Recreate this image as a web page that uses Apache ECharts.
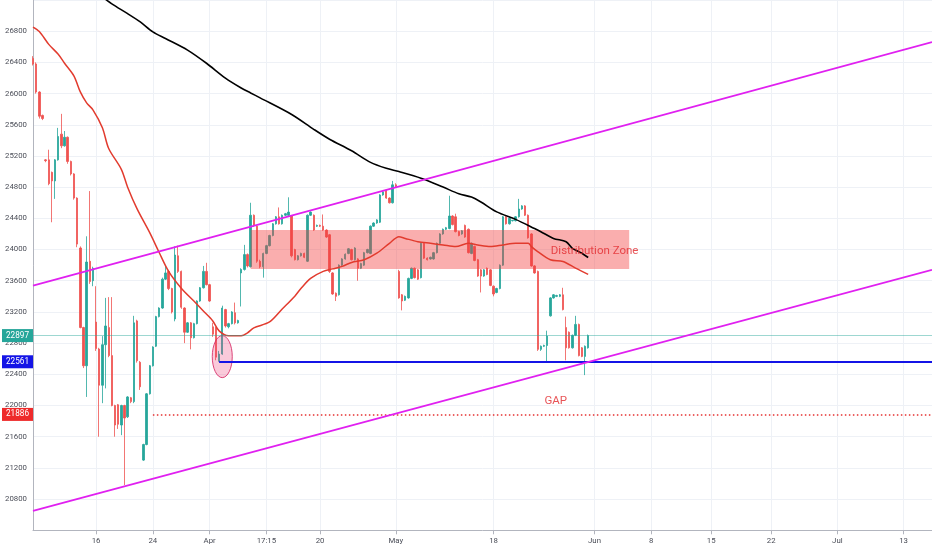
<!DOCTYPE html>
<html>
<head>
<meta charset="utf-8">
<title>HSI - Distribution Zone</title>
<script src="https://cdn.jsdelivr.net/npm/echarts@6/dist/echarts.min.js"></script>
<style>
  html, body { margin: 0; padding: 0; background: #ffffff; }
  #chart { width: 932px; height: 550px; }
</style>
</head>
<body>
<div id="chart"></div>
<script>
// bar slots on the time axis (candles + empty future slots)
var slotCount = 286;
var tickIndex = [20, 38, 56, 74, 91, 115, 146, 178, 196, 215, 234, 255, 276];
var tickText = ['16', '24', 'Apr', '17:15', '20', 'May', '18', 'Jun', '8', '15', '22', 'Jul', '13'];

// candles: [open, close, low, high]
var ohlc = [
  [26450, 26380, 26360, 26480], [26380, 26020, 26000, 26400], [26020, 25710, 25680, 26030], [25720, 25680, 25660, 25730],
  [25150, 25140, 25120, 25160], [25150, 24845, 24825, 25280], [24990, 24880, 24350, 25000], [24880, 25150, 24650, 25160],
  [25150, 25450, 25140, 25560], [25480, 25330, 25300, 25740], [25330, 25440, 25320, 25520], [25440, 25130, 25100, 25450],
  [25130, 24970, 24950, 25140], [24970, 24660, 24640, 24980], [24660, 24070, 24030, 24670], [24020, 23000, 22990, 24040],
  [23000, 22510, 22480, 23010], [22510, 23840, 22110, 24170], [23850, 23590, 23560, 24750], [23600, 23760, 23530, 23780],
  [23070, 22730, 22700, 23530], [22725, 22260, 21600, 22740], [22260, 22780, 22030, 22890], [22780, 23020, 22220, 23380],
  [23000, 22640, 22620, 23390], [22640, 22000, 21990, 23390], [22000, 21750, 21600, 22010], [22010, 21760, 21700, 22020],
  [21750, 22000, 21620, 22010], [22000, 21840, 20980, 22010], [21855, 22110, 21840, 22120], [22100, 22050, 22030, 22110],
  [22050, 23060, 22030, 23150], [23085, 22575, 22550, 23100], [22555, 22240, 22200, 22570], [21300, 21500, 21290, 21510],
  [21500, 22150, 21490, 22160], [22150, 22510, 22140, 22520], [22510, 22750, 22500, 22760], [22760, 23140, 22750, 23150],
  [23140, 23250, 23130, 23260], [23250, 23620, 23240, 23640], [23620, 23700, 23610, 23800], [23720, 23500, 23480, 23740],
  [23500, 23200, 23180, 23510], [23110, 23930, 23080, 24040], [23920, 23720, 23700, 24050], [23720, 23260, 23240, 23730],
  [23250, 22940, 22800, 23260], [22940, 23060, 22930, 23070], [23060, 22870, 22720, 23070], [22870, 23050, 22860, 23060],
  [23050, 23340, 23040, 23350], [23340, 23510, 23330, 23520], [23510, 23720, 23500, 23790], [23720, 23550, 23540, 23830],
  [23550, 23340, 23330, 23560], [23010, 22915, 22880, 23060], [23000, 22620, 22580, 23010], [22570, 22660, 22561, 22700],
  [22660, 23250, 22650, 23280], [23230, 23020, 23000, 23240], [23010, 23050, 22990, 23060], [23050, 23200, 23040, 23210],
  [23190, 23060, 23040, 23320], [23060, 23090, 23050, 23100], [23700, 23745, 23270, 23760], [23745, 23935, 23730, 24060],
  [23935, 23790, 23770, 23950], [23780, 24440, 23770, 24600], [24440, 24310, 24290, 24450], [24300, 23850, 23830, 24310],
  [23850, 23780, 23760, 23870], [23780, 23950, 23640, 23960], [23950, 24050, 23940, 24060], [24050, 24180, 24040, 24190],
  [24180, 24330, 24170, 24340], [24330, 24420, 24320, 24430], [24420, 24330, 24320, 24540], [24330, 24440, 24320, 24450],
  [24440, 24460, 24430, 24470], [24440, 24480, 24430, 24670], [24430, 23920, 23900, 24440], [24000, 23870, 23860, 24010],
  [23870, 23920, 23860, 23930], [23920, 23950, 23910, 23960], [23950, 23900, 23890, 23960], [23850, 24440, 23840, 24450],
  [24440, 24480, 24430, 24490], [24440, 24250, 24240, 24450], [24300, 24310, 24290, 24320], [24310, 24300, 24290, 24320],
  [24300, 24250, 24240, 24450], [24250, 24160, 24150, 24260], [24190, 23720, 23700, 24200], [23700, 23430, 23420, 23710],
  [23440, 23400, 23340, 23450], [23420, 23800, 23410, 23810], [23800, 23880, 23790, 23890], [23880, 23940, 23870, 23950],
  [23950, 24010, 23940, 24020], [24000, 23870, 23860, 24010], [23870, 24020, 23860, 24030], [23880, 23760, 23600, 23890],
  [23760, 23820, 23750, 23830], [23800, 23960, 23790, 23970], [23960, 24000, 23950, 24010], [23950, 24300, 23940, 24310],
  [24300, 24340, 24290, 24350], [24340, 24380, 24330, 24390], [24350, 24700, 24340, 24710], [24700, 24740, 24690, 24750],
  [24760, 24660, 24650, 24770], [24660, 24600, 24590, 24670], [24600, 24830, 24590, 24880], [24830, 24810, 24800, 24850],
  [23720, 23380, 23370, 23740], [23420, 23340, 23220, 23430], [23350, 23400, 23340, 23410], [23380, 23630, 23370, 23640],
  [23630, 23760, 23620, 23770], [23760, 23640, 23630, 23770], [23740, 23620, 23610, 23750], [23640, 24080, 23630, 24090],
  [24080, 23890, 23880, 24090], [23890, 23870, 23860, 23900], [23880, 23900, 23870, 23910], [23880, 23960, 23870, 23970],
  [23960, 24080, 23950, 24090], [24080, 24200, 24070, 24210], [24200, 24260, 24190, 24270], [24260, 24280, 24250, 24290],
  [24270, 24430, 24260, 24690], [24430, 24320, 24310, 24440], [24420, 24230, 24220, 24460], [24230, 24180, 24170, 24240],
  [24200, 24240, 24190, 24250], [24310, 24160, 24150, 24320], [24260, 23960, 23950, 24270], [23950, 24080, 23940, 24090],
  [24040, 23860, 23850, 24050], [23870, 23660, 23650, 23880], [23740, 23660, 23450, 23750], [23660, 23740, 23650, 23750],
  [23760, 23680, 23670, 23770], [23740, 23540, 23530, 23750], [23530, 23430, 23400, 23540], [23450, 23500, 23440, 23510],
  [23500, 23800, 23490, 23810], [23800, 24420, 23790, 24430], [24420, 24330, 24320, 24430], [24330, 24400, 24320, 24410],
  [24370, 24375, 24360, 24380], [24370, 24420, 24360, 24430], [24420, 24520, 24410, 24650], [24520, 24560, 24510, 24570],
  [24560, 24440, 24430, 24570], [24440, 24150, 24140, 24450], [24200, 23790, 23780, 24210], [23790, 23700, 23690, 23800],
  [23720, 22720, 22700, 23730], [22720, 22760, 22700, 22770], [22760, 22770, 22750, 22780], [22770, 22890, 22560, 22960],
  [23150, 23380, 23140, 23390], [23380, 23420, 23370, 23430], [23400, 23410, 23390, 23420], [23400, 23420, 23390, 23430],
  [23420, 23230, 23220, 23510], [23000, 22740, 22580, 23140], [22940, 22740, 22730, 22950], [22740, 22900, 22730, 22910],
  [22900, 23040, 22890, 23150], [23040, 22640, 22630, 23050], [22740, 22630, 22620, 22750], [22630, 22760, 22390, 22770],
  [22740, 22897, 22730, 22910]
];

// moving averages: [slot, value]
var maFast = [
  [0, 26853], [2, 26796], [5, 26631], [8, 26504], [10, 26389], [13, 26224], [15, 26021], [17, 25881],
  [19, 25792], [22, 25563], [24, 25296], [28, 25029], [30, 24800], [33, 24521], [37, 24216], [40, 23962],
  [43, 23720], [47, 23504], [51, 23339], [54, 23212], [57, 23085], [59, 22957], [62, 22894], [66, 22894],
  [68, 22932], [70, 22996], [75, 23072], [79, 23237], [83, 23402], [85, 23504], [88, 23631], [92, 23720],
  [95, 23752], [98, 23784], [101, 23835], [105, 23869], [109, 23953], [113, 24080], [116, 24165], [118, 24143],
  [122, 24101], [126, 24080], [130, 24059], [134, 24038], [138, 24080], [141, 24059], [145, 24038], [149, 24059],
  [153, 24080], [157, 24080], [158, 24038], [160, 23974], [164, 23869], [168, 23847], [172, 23762], [176, 23682]
];
var maSlow = [
  [22, 27240], [25, 27150], [30, 27025], [34, 26919], [38, 26792], [42, 26707], [49, 26558], [55, 26389],
  [61, 26199], [66, 26072], [69, 26008], [72, 25945], [82, 25732], [89, 25542], [94, 25415], [101, 25267],
  [107, 25118], [112, 25042], [116, 25000], [123, 24915], [130, 24801], [135, 24715], [139, 24673], [142, 24610],
  [147, 24483], [153, 24387], [159, 24270], [161, 24229], [165, 24143], [169, 24101], [171, 24016], [174, 23953],
  [176, 23898]
];

// drawn annotations
var channelTop = [[0, 23538], [285, 26660]];
var channelBottom = [[0, 20650], [285, 23739]];
var lastPrice = 22897;
var supportLevel = 22561, supportStart = 59;
var gapLevel = 21886, gapStart = 38;
var zoneBox = [69, 189, 24250, 23750];
var lowMark = [60, 22627];
var noteSlot = [164, 162];
var noteValue = [23974, 22055];
var noteText = ['Distribution Zone', 'GAP'];

(function () {
  var up = '#26a69a', down = '#ef5350', axisCol = '#b2b5be', grid = '#eef1f6';
  var textCol = '#4a4d57', magenta = '#e020f0', blue = '#1414e6', red = '#e2282c';
  var font = 'Roboto, "Liberation Sans", sans-serif';

  var categories = [];
  for (var i = 0; i < slotCount; i++) categories.push('');
  tickIndex.forEach(function (idx, k) { categories[idx] = tickText[k]; });
  function isTick(index, value) { return value !== ''; }

  // price badge sitting on the left axis
  function badge(bg, level) {
    return {
      show: true, position: 'start', distance: 0, formatter: String(level),
      backgroundColor: bg, color: '#fff', fontSize: 8.2, fontFamily: font, padding: [3, 4, 2, 4]
    };
  }
  var last = slotCount - 1;

  var chart = echarts.init(document.getElementById('chart'), null, { renderer: 'canvas' });
  chart.setOption({
    animation: false,
    backgroundColor: '#ffffff',
    grid: { left: 33, right: 0, top: -4.7, bottom: 19.7 },
    xAxis: {
      type: 'category',
      data: categories,
      boundaryGap: false,
      axisLine: { lineStyle: { color: axisCol } },
      axisTick: { show: true, interval: isTick, length: 4, lineStyle: { color: axisCol } },
      axisLabel: { interval: isTick, color: textCol, fontSize: 7.8, fontFamily: font, margin: 7 },
      splitLine: { show: true, interval: isTick, lineStyle: { color: grid } }
    },
    yAxis: {
      type: 'value',
      position: 'left',
      min: 20400,
      max: 27200,
      interval: 400,
      axisLine: { show: true, lineStyle: { color: axisCol } },
      axisTick: { show: false },
      axisLabel: {
        color: textCol, fontSize: 7.8, fontFamily: font, margin: 6,
        showMinLabel: false, showMaxLabel: false,
        formatter: function (v) { return String(v); }
      },
      splitLine: { lineStyle: { color: grid } }
    },
    series: [
      {
        type: 'candlestick',
        z: 2,
        data: ohlc,
        barWidth: 1.9,
        itemStyle: { color: up, color0: down, borderColor: up, borderColor0: down, borderWidth: 0.8 }
      },
      {
        // distribution zone box, drawn over the candles
        type: 'custom',
        z: 3,
        silent: true,
        data: [zoneBox],
        encode: { x: [0, 1], y: [2, 3] },
        renderItem: function (params, api) {
          var a = api.coord([api.value(0), api.value(2)]);
          var b = api.coord([api.value(1), api.value(3)]);
          return {
            type: 'rect',
            shape: { x: a[0], y: a[1], width: b[0] - a[0], height: b[1] - a[1] },
            style: { fill: 'rgba(242,62,62,0.42)' }
          };
        }
      },
      {
        type: 'custom',
        z: 3,
        silent: true,
        data: [lowMark],
        encode: { x: 0, y: 1 },
        renderItem: function (params, api) {
          var c = api.coord([api.value(0), api.value(1)]);
          return {
            type: 'ellipse',
            shape: { cx: c[0], cy: c[1], rx: 10, ry: 21 },
            style: { fill: 'rgba(236,64,122,0.28)', stroke: 'rgba(214,40,100,0.85)', lineWidth: 1 }
          };
        }
      },
      {
        type: 'line', z: 4, data: maSlow, showSymbol: false, smooth: 0.3,
        lineStyle: { color: '#000000', width: 1.6 }
      },
      {
        type: 'line', z: 4, data: maFast, showSymbol: false, smooth: 0.3,
        lineStyle: { color: '#e23b2e', width: 1.5 }
      },
      {
        type: 'line', z: 5, data: [], silent: true,
        markLine: {
          silent: true,
          symbol: ['none', 'none'],
          data: [
            [{ coord: [0, lastPrice], lineStyle: { color: 'rgba(38,166,154,0.45)', width: 1, type: 'solid' }, label: badge('#26a69a', lastPrice) },
             { coord: [last, lastPrice] }],
            [{ coord: [0, supportLevel], lineStyle: { color: 'rgba(0,0,0,0)', width: 0 }, label: badge(blue, supportLevel) },
             { coord: [last, supportLevel] }],
            [{ coord: [0, gapLevel], lineStyle: { color: 'rgba(0,0,0,0)', width: 0 }, label: badge('#ee2b2b', gapLevel) },
             { coord: [last, gapLevel] }],
            [{ coord: [supportStart, supportLevel], lineStyle: { color: blue, width: 2, type: 'solid' }, label: { show: false } },
             { coord: [last, supportLevel] }],
            [{ coord: [gapStart, gapLevel], lineStyle: { color: '#e53030', width: 1.5, type: [1.5, 2.5] }, label: { show: false } },
             { coord: [last, gapLevel] }],
            [{ coord: channelTop[0], lineStyle: { color: magenta, width: 1.8, type: 'solid' }, label: { show: false } },
             { coord: channelTop[1] }],
            [{ coord: channelBottom[0], lineStyle: { color: magenta, width: 1.8, type: 'solid' }, label: { show: false } },
             { coord: channelBottom[1] }]
          ]
        }
      },
      {
        type: 'scatter', z: 6, silent: true,
        symbolSize: 1,
        itemStyle: { color: 'rgba(0,0,0,0)' },
        data: noteText.map(function (t, k) {
          return { value: [noteSlot[k], noteValue[k]], name: t };
        }),
        label: {
          show: true, position: 'right', distance: 0,
          formatter: function (p) { return p.name; },
          color: red, fontSize: 11.5, fontFamily: font
        }
      }
    ]
  });
})();
</script>
</body>
</html>
